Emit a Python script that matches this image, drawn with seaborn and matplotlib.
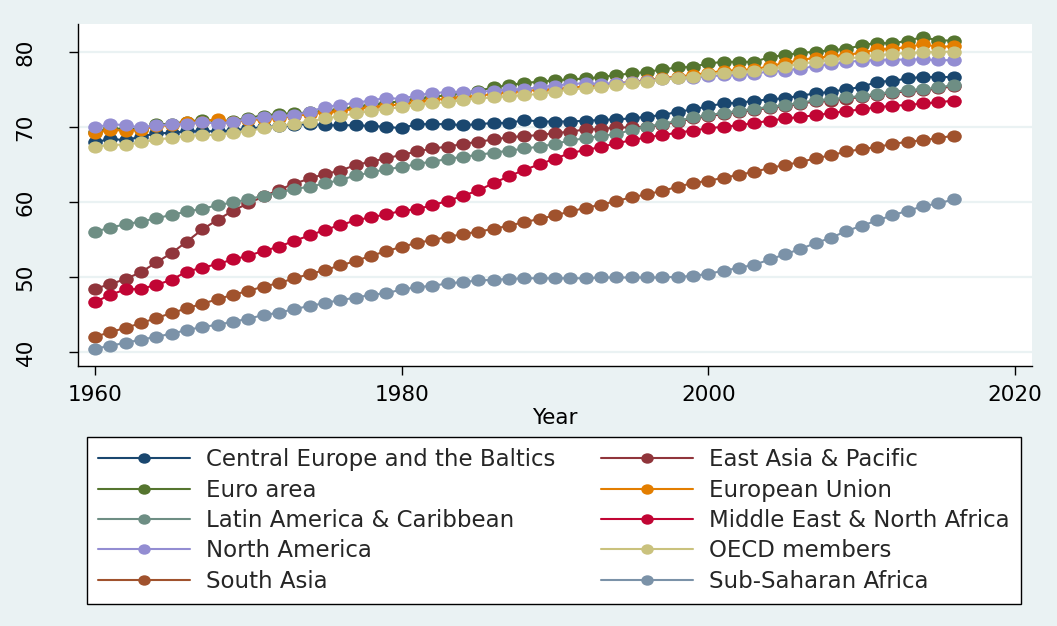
import matplotlib
matplotlib.use("Agg")
import matplotlib.pyplot as plt
import pandas as pd
import seaborn as sns
from matplotlib.lines import Line2D
from matplotlib.path import Path
from matplotlib.transforms import Affine2D

years = list(range(1960, 2017))

regions = [
    "Central Europe and the Baltics",
    "East Asia & Pacific",
    "Euro area",
    "European Union",
    "Latin America & Caribbean",
    "Middle East & North Africa",
    "North America",
    "OECD members",
    "South Asia",
    "Sub-Saharan Africa",
]

colors = ["#1A476F", "#90353B", "#55752F", "#E37E00", "#6E8E84",
          "#C10534", "#938DD2", "#CAC27E", "#A0522D", "#7B92A8"]

# life expectancy at birth, 1960-2016
central_europe = [68.0, 68.5, 68.3, 68.8, 69.2, 69.3, 69.5, 69.5, 69.5, 69.6,
                  69.9, 70.0, 70.2, 70.3, 70.5, 70.3, 70.3, 70.3, 70.2, 70.1,
                  69.9, 70.45, 70.45, 70.45, 70.3, 70.45, 70.6, 70.6, 71.0, 70.8,
                  70.8, 70.8, 70.9, 71.0, 71.1, 71.2, 71.45, 71.65, 72.1, 72.4,
                  72.85, 73.2, 73.3, 73.55, 73.75, 73.9, 74.25, 74.55, 74.75, 75.1,
                  75.4, 76.1, 76.2, 76.55, 76.75, 76.7, 76.75]
east_asia = [48.5, 49.1, 49.8, 50.7, 52.0, 53.25, 54.8, 56.4, 57.7, 58.9,
             59.9, 60.8, 61.7, 62.5, 63.2, 63.8, 64.25, 65.0, 65.45, 65.9,
             66.35, 66.8, 67.2, 67.45, 67.8, 68.1, 68.4, 68.7, 68.85, 69.0,
             69.25, 69.45, 69.75, 69.8, 70.0, 70.0, 70.1, 70.35, 70.75, 71.2,
             71.5, 71.8, 72.05, 72.35, 72.6, 72.85, 73.15, 73.5, 73.6, 73.85,
             74.05, 74.35, 74.6, 74.85, 74.95, 75.2, 75.5]
euro_area = [69.4, 69.9, 69.8, 69.8, 70.4, 70.5, 70.8, 71.0, 70.9, 70.9,
             71.3, 71.6, 71.8, 71.9, 72.0, 72.2, 72.4, 72.8, 73.0, 73.3,
             73.5, 73.8, 74.1, 74.3, 74.6, 74.9, 75.35, 75.65, 75.95, 76.1,
             76.3, 76.4, 76.55, 76.7, 77.0, 77.2, 77.4, 77.75, 78.0, 78.1,
             78.55, 78.75, 78.75, 78.75, 79.4, 79.65, 79.95, 80.1, 80.3, 80.5,
             80.95, 81.3, 81.2, 81.6, 82.05, 81.6, 81.6]
european_union = [69.3, 69.65, 69.6, 69.7, 70.2, 70.3, 70.8, 70.8, 71.1, 70.7,
                  71.0, 71.1, 71.3, 71.5, 71.8, 72.0, 72.2, 72.5, 72.7, 72.9,
                  73.1, 73.4, 73.7, 73.8, 74.1, 74.2, 74.5, 74.7, 74.9, 75.0,
                  75.1, 75.3, 75.5, 75.6, 75.9, 76.1, 76.3, 76.6, 76.8, 77.0,
                  77.3, 77.55, 77.65, 77.75, 78.2, 78.6, 79.0, 79.3, 79.5, 79.7,
                  79.95, 80.45, 80.5, 80.75, 81.1, 80.75, 80.85]
latin_america = [56.1, 56.65, 57.1, 57.45, 57.9, 58.35, 58.8, 59.15, 59.65, 60.0,
                 60.45, 60.9, 61.3, 61.8, 62.1, 62.55, 63.0, 63.6, 64.0, 64.45,
                 64.7, 65.15, 65.45, 65.8, 66.1, 66.35, 66.65, 66.9, 67.2, 67.45,
                 67.8, 68.3, 68.55, 68.9, 69.1, 69.7, 70.1, 70.5, 70.9, 71.35,
                 71.65, 71.95, 72.2, 72.5, 72.75, 73.0, 73.3, 73.65, 73.75, 74.0,
                 74.2, 74.5, 74.75, 75.0, 75.1, 75.35, 75.65]
middle_east = [46.7, 47.7, 48.4, 48.5, 49.0, 49.7, 50.8, 51.3, 51.8, 52.4,
               52.9, 53.55, 54.1, 54.9, 55.6, 56.35, 57.0, 57.6, 58.05, 58.4,
               58.9, 59.1, 59.65, 60.2, 60.9, 61.6, 62.6, 63.5, 64.35, 65.1,
               65.85, 66.6, 67.0, 67.4, 67.9, 68.3, 68.7, 69.0, 69.3, 69.6,
               69.9, 70.1, 70.3, 70.6, 70.9, 71.2, 71.4, 71.65, 71.9, 72.2,
               72.4, 72.7, 72.9, 73.0, 73.2, 73.35, 73.6]
north_america = [70.0, 70.45, 70.3, 70.0, 70.3, 70.4, 70.45, 70.8, 70.45, 70.8,
                 71.1, 71.35, 71.5, 71.65, 72.1, 72.75, 73.0, 73.3, 73.6, 73.95,
                 73.8, 74.3, 74.6, 74.7, 74.8, 74.8, 74.85, 75.1, 75.1, 75.4,
                 75.6, 75.8, 75.9, 75.8, 75.95, 76.0, 76.2, 76.5, 76.6, 76.65,
                 76.85, 76.95, 77.0, 77.15, 77.5, 77.6, 77.85, 78.2, 78.4, 78.75,
                 78.9, 79.0, 79.05, 79.05, 79.1, 78.95, 79.0]
oecd = [67.4, 67.7, 67.7, 68.0, 68.4, 68.6, 68.9, 69.0, 69.0, 69.3,
        69.55, 69.9, 70.2, 70.5, 70.8, 71.2, 71.5, 71.9, 72.2, 72.5,
        72.7, 73.0, 73.2, 73.4, 73.65, 73.9, 74.0, 74.2, 74.3, 74.5,
        74.75, 75.1, 75.2, 75.35, 75.65, 75.9, 76.1, 76.4, 76.55, 76.75,
        77.1, 77.3, 77.4, 77.55, 77.85, 78.1, 78.5, 78.75, 79.0, 79.2,
        79.4, 79.65, 79.8, 79.95, 80.0, 80.1, 80.1]
south_asia = [42.1, 42.7, 43.3, 43.9, 44.6, 45.25, 45.9, 46.5, 47.1, 47.7,
              48.2, 48.8, 49.25, 49.9, 50.45, 51.0, 51.6, 52.2, 52.9, 53.5,
              54.1, 54.6, 55.0, 55.4, 55.8, 56.1, 56.5, 56.9, 57.4, 57.8,
              58.3, 58.8, 59.3, 59.7, 60.2, 60.7, 61.1, 61.55, 62.1, 62.6,
              62.9, 63.3, 63.7, 64.1, 64.6, 65.0, 65.4, 65.9, 66.3, 66.8,
              67.1, 67.4, 67.8, 68.1, 68.3, 68.6, 68.9]
sub_saharan = [40.5, 40.9, 41.3, 41.7, 42.1, 42.5, 43.0, 43.4, 43.7, 44.1,
               44.5, 45.0, 45.3, 45.8, 46.2, 46.6, 47.0, 47.3, 47.7, 47.9,
               48.4, 48.7, 48.9, 49.2, 49.4, 49.6, 49.7, 49.8, 49.9, 49.9,
               49.9, 49.9, 49.9, 50.0, 50.0, 50.0, 50.0, 50.0, 50.1, 50.2,
               50.5, 50.9, 51.3, 51.7, 52.4, 53.1, 53.8, 54.6, 55.3, 56.2,
               56.9, 57.6, 58.3, 58.9, 59.5, 59.9, 60.4]

series = [central_europe, east_asia, euro_area, european_union, latin_america,
          middle_east, north_america, oecd, south_asia, sub_saharan]

df = pd.concat(
    [pd.DataFrame({"Year": years, "Region": r, "LifeExp": v}) for r, v in zip(regions, series)],
    ignore_index=True,
)

bg = "#EAF2F3"
sns.set_theme(style="white")
plt.rcParams["font.family"] = ["DejaVu Sans"]

fig = plt.figure(figsize=(10.57, 6.26), dpi=100, facecolor=bg)
ax = fig.add_axes([78 / 1057, 1 - 366 / 626, (1032 - 78) / 1057, (366 - 24) / 626])
ax.set_facecolor("white")

# slightly wide dots, like the stretched original
dot = Path.unit_circle().transformed(Affine2D().scale(1.2, 1.0))

sns.lineplot(
    data=df, x="Year", y="LifeExp", hue="Region", hue_order=regions,
    palette=colors, marker=dot, markersize=10.5, markeredgewidth=0,
    linewidth=1.5, errorbar=None, legend=False, ax=ax,
)

ax.set_xlim(1958.9, 2021.1)
ax.set_ylim(38.2, 83.8)
ax.set_xticks([1960, 1980, 2000, 2020])
ax.set_yticks([40, 50, 60, 70, 80])
ax.set_axisbelow(True)
ax.yaxis.grid(True, color=bg, linewidth=1.6)
ax.xaxis.grid(False)

for s in ["top", "right"]:
    ax.spines[s].set_visible(False)
for s in ["left", "bottom"]:
    ax.spines[s].set_color("black")
    ax.spines[s].set_linewidth(1)

ax.tick_params(axis="both", direction="out", length=6.5, width=1, color="black",
               labelsize=15.5, labelcolor="black", left=True, bottom=True)
ax.tick_params(axis="y", pad=24)
ax.tick_params(axis="x", pad=7)
plt.setp(ax.get_yticklabels(), rotation=90, va="center")

ax.set_xlabel("Year", fontsize=15.5, color="black", labelpad=2)
ax.set_ylabel("")

handles = [Line2D([], [], color=c, lw=1.5, marker=dot, ms=9, mew=0) for c in colors]
order = [0, 2, 4, 6, 8, 1, 3, 5, 7, 9]
leg = ax.legend(
    [handles[i] for i in order], [regions[i] for i in order],
    ncol=2, loc="upper left", mode="expand",
    bbox_to_anchor=(87 / 1057, 1 - 599 / 626, (1021 - 87) / 1057, (599 - 437) / 626),
    bbox_transform=fig.transFigure, borderaxespad=0,
    fontsize=16.5, handlelength=4.0, handletextpad=0.7, labelspacing=0.32,
    borderpad=0.5, frameon=True, fancybox=False,
)
leg.get_frame().set_edgecolor("black")
leg.get_frame().set_linewidth(1)
leg.get_frame().set_facecolor("white")
leg.get_frame().set_alpha(1)

fig.savefig("out.png", dpi=100, facecolor=bg)
